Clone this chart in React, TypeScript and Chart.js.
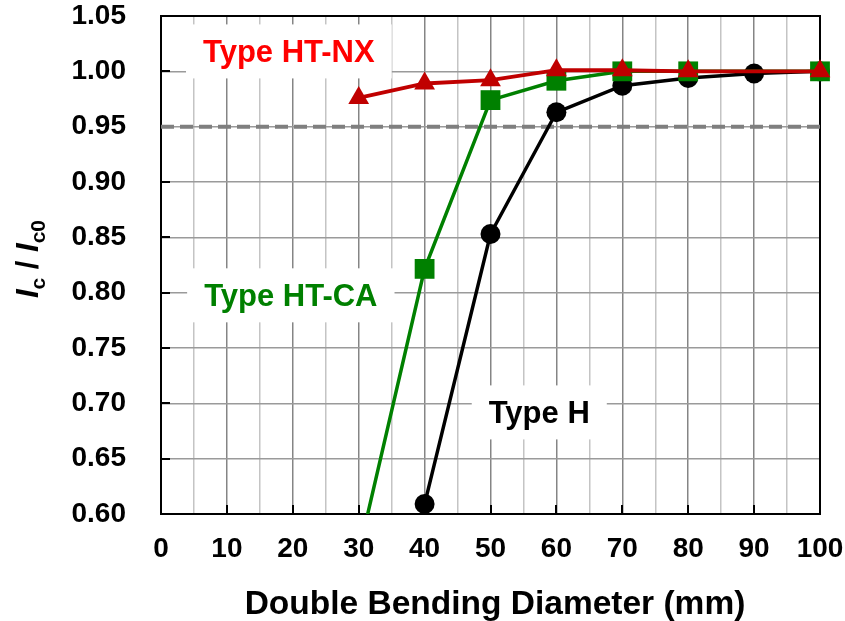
import React, { useEffect, useRef } from "react";
import { Chart, registerables } from "chart.js";

Chart.register(...registerables);

// ---- data ----
const diameters = [30, 40, 50, 60, 70, 80, 90, 100];
const typeHTNX = [0.976, 0.989, 0.992, 1.001, 1.001, 1.0, null, 1.0];
const typeHTCA = [0.565, 0.8215, 0.974, 0.9915, 1.0, 1.0, null, 1.0];
const typeH = [null, 0.609, 0.853, 0.963, 0.987, 0.994, 0.998, 1.0];
const thresholdX = [0, 100];
const thresholdY = [0.95, 0.95];

const labelTexts = ["Type HT-NX", "Type HT-CA", "Type H"];
const labelX = [19.4, 19.7, 57.4];
const labelY = [1.018, 0.7976, 0.6918];
const labelColors = ["#ff0000", "#008000", "#000000"];

const xTitle = "Double Bending Diameter (mm)";

const FONT = "'Liberation Sans', Arial, Helvetica, sans-serif";

function toPoints(xs: number[], ys: (number | null)[]) {
  return xs.map((x, i) => ({ x, y: ys[i] }));
}

const decorPlugin = {
  id: "decor",
  beforeDatasetsDraw(chart: any) {
    const { ctx, chartArea: a, scales } = chart;
    const xs = scales.x;
    const ys = scales.y;
    ctx.save();
    // annotation labels with white boxes
    ctx.font = `bold 31px ${FONT}`;
    ctx.textAlign = "center";
    ctx.textBaseline = "alphabetic";
    labelTexts.forEach((t, i) => {
      const w = ctx.measureText(t).width;
      const cx = xs.getPixelForValue(labelX[i]);
      const cy = ys.getPixelForValue(labelY[i]);
      ctx.fillStyle = "#ffffff";
      ctx.fillRect(cx - w / 2 - 17, cy - 27, w + 34, 54);
      ctx.fillStyle = labelColors[i];
      ctx.fillText(t, cx, cy + 11);
    });
    // plot border
    ctx.strokeStyle = "#000";
    ctx.lineWidth = 2;
    ctx.strokeRect(a.left, a.top, a.right - a.left, a.bottom - a.top);
    // inward tick marks
    ctx.beginPath();
    ys.ticks.forEach((tk: any) => {
      const py = Math.round(ys.getPixelForValue(tk.value));
      ctx.moveTo(a.left, py);
      ctx.lineTo(a.left + 9, py);
    });
    xs.ticks.forEach((tk: any) => {
      const v = Math.round(tk.value);
      if (v % 10 !== 0) return;
      const px = Math.round(xs.getPixelForValue(v));
      ctx.moveTo(px, a.bottom);
      ctx.lineTo(px, a.bottom - 9);
    });
    ctx.stroke();
    ctx.restore();
  },
  afterDraw(chart: any) {
    const { ctx } = chart;
    ctx.save();
    // x title
    ctx.fillStyle = "#000";
    ctx.font = `bold 33.5px ${FONT}`;
    ctx.textAlign = "center";
    ctx.textBaseline = "alphabetic";
    ctx.fillText(xTitle, 495, 614);
    // y title: I_c / I_c0 (rotated)
    ctx.translate(38, 259);
    ctx.rotate(-Math.PI / 2);
    const big = `italic bold 31px ${FONT}`;
    const bigPlain = `bold 31px ${FONT}`;
    const small = `bold 21px ${FONT}`;
    const parts = [
      { t: "I", f: big, dy: 0 },
      { t: "c", f: small, dy: 7 },
      { t: " / ", f: bigPlain, dy: 0 },
      { t: "I", f: big, dy: 0 },
      { t: "c0", f: small, dy: 7 },
    ];
    let total = 0;
    const widths = parts.map((p) => {
      ctx.font = p.f;
      const w = ctx.measureText(p.t).width;
      total += w;
      return w;
    });
    let x = -total / 2;
    ctx.textAlign = "left";
    parts.forEach((p, i) => {
      ctx.font = p.f;
      ctx.fillText(p.t, x, p.dy);
      x += widths[i];
    });
    ctx.restore();
  },
};

export default function App() {
  const canvasRef = useRef<HTMLCanvasElement | null>(null);

  useEffect(() => {
    document.body.style.margin = "0";
    const canvas = canvasRef.current;
    if (!canvas) return;
    const seriesClip = { left: 0, top: 20, right: 20, bottom: 0 };
    const chart = new Chart(canvas, {
      type: "line",
      data: {
        datasets: [
          {
            label: "Type HT-NX",
            data: toPoints(diameters, typeHTNX),
            borderColor: "#c00000",
            backgroundColor: "#c00000",
            borderWidth: 3.8,
            pointStyle: "triangle",
            pointRadius: 12,
            pointBorderWidth: 0,
            spanGaps: true,
            clip: seriesClip,
          } as any,
          {
            label: "Type HT-CA",
            data: toPoints(diameters, typeHTCA),
            borderColor: "#008000",
            backgroundColor: "#008000",
            borderWidth: 3.5,
            pointStyle: "rect",
            pointRadius: 14,
            pointBorderWidth: 0,
            spanGaps: true,
            clip: seriesClip,
          },
          {
            label: "Type H",
            data: toPoints(diameters, typeH),
            borderColor: "#000000",
            backgroundColor: "#000000",
            borderWidth: 3.5,
            pointStyle: "circle",
            pointRadius: 10,
            pointBorderWidth: 0,
            spanGaps: true,
            clip: seriesClip,
          },
          {
            label: "threshold",
            data: toPoints(thresholdX, thresholdY),
            borderColor: "#7f7f7f",
            borderWidth: 4,
            borderDash: [13, 6],
            pointRadius: 0,
          },
        ],
      },
      options: {
        animation: false,
        responsive: false,
        devicePixelRatio: 1,
        layout: { padding: { left: 0, top: 16, right: 25, bottom: 0 } },
        plugins: {
          legend: { display: false },
          tooltip: { enabled: false },
        },
        scales: {
          x: {
            type: "linear",
            min: 0,
            max: 100,
            border: { display: false },
            ticks: {
              stepSize: 5,
              autoSkip: false,
              maxRotation: 0,
              minRotation: 0,
              padding: 18,
              color: "#000",
              font: { family: FONT, size: 28, weight: "bold" },
              callback: (v: any) => (Math.round(v) % 10 === 0 ? String(Math.round(v)) : ""),
            },
            grid: {
              drawTicks: false,
              lineWidth: 1.5,
              color: (c: any) =>
                Math.round(c.tick.value) % 10 === 0 ? "#858585" : "#c4c4c4",
            },
            afterFit: (s: any) => {
              s.height = 107;
              s.paddingLeft = 0;
              s.paddingRight = 0;
              s.paddingTop = 0;
              s.paddingBottom = 0;
            },
          },
          y: {
            type: "linear",
            min: 0.6,
            max: 1.05,
            border: { display: false },
            ticks: {
              stepSize: 0.05,
              padding: 35,
              color: "#000",
              font: { family: FONT, size: 28, weight: "bold" },
              callback: (v: any) => Number(v).toFixed(2),
            },
            grid: {
              drawTicks: false,
              lineWidth: 1.5,
              color: "#9a9a9a",
            },
            afterFit: (s: any) => {
              s.width = 161;
              s.paddingLeft = 0;
              s.paddingRight = 0;
              s.paddingTop = 0;
              s.paddingBottom = 0;
            },
          },
        },
      } as any,
      plugins: [decorPlugin],
    });
    return () => chart.destroy();
  }, []);

  return (
    <canvas
      ref={canvasRef}
      width={845}
      height={621}
      style={{ display: "block", width: 845, height: 621 }}
    />
  );
}
